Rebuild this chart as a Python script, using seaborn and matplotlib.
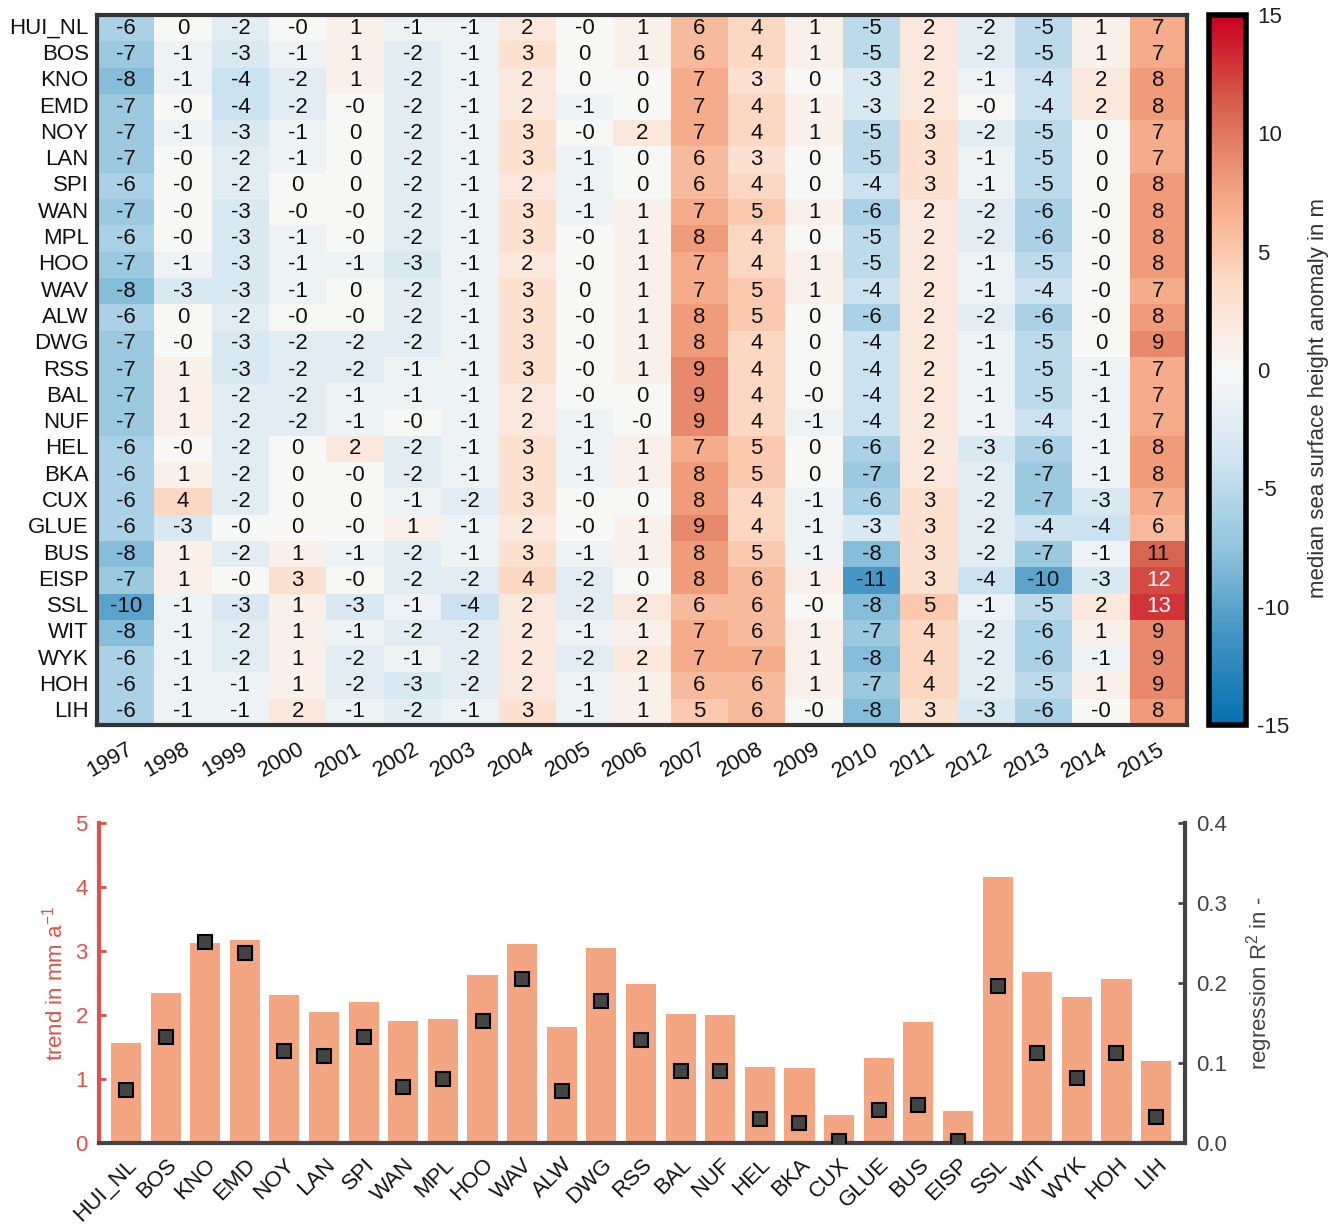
import numpy as np
import pandas as pd
import matplotlib
matplotlib.use("Agg")
import matplotlib.pyplot as plt
from matplotlib.colors import LinearSegmentedColormap
from matplotlib.ticker import FormatStrFormatter
import seaborn as sns

# ---------------- data ----------------
stations = ["HUI_NL", "BOS", "KNO", "EMD", "NOY", "LAN", "SPI", "WAN", "MPL", "HOO",
            "WAV", "ALW", "DWG", "RSS", "BAL", "NUF", "HEL", "BKA", "CUX", "GLUE",
            "BUS", "EISP", "SSL", "WIT", "WYK", "HOH", "LIH"]
years = ["1997", "1998", "1999", "2000", "2001", "2002", "2003", "2004", "2005", "2006",
         "2007", "2008", "2009", "2010", "2011", "2012", "2013", "2014", "2015"]

# median sea surface height anomaly per station (rows) and year (columns); -0.0 shown as "-0"
anom_HUI_NL = [-6, 0, -2, -0.0, 1, -1, -1, 2, -0.0, 1, 6, 4, 1, -5, 2, -2, -5, 1, 7]
anom_BOS    = [-7, -1, -3, -1, 1, -2, -1, 3, 0, 1, 6, 4, 1, -5, 2, -2, -5, 1, 7]
anom_KNO    = [-8, -1, -4, -2, 1, -2, -1, 2, 0, 0, 7, 3, 0, -3, 2, -1, -4, 2, 8]
anom_EMD    = [-7, -0.0, -4, -2, -0.0, -2, -1, 2, -1, 0, 7, 4, 1, -3, 2, -0.0, -4, 2, 8]
anom_NOY    = [-7, -1, -3, -1, 0, -2, -1, 3, -0.0, 2, 7, 4, 1, -5, 3, -2, -5, 0, 7]
anom_LAN    = [-7, -0.0, -2, -1, 0, -2, -1, 3, -1, 0, 6, 3, 0, -5, 3, -1, -5, 0, 7]
anom_SPI    = [-6, -0.0, -2, 0, 0, -2, -1, 2, -1, 0, 6, 4, 0, -4, 3, -1, -5, 0, 8]
anom_WAN    = [-7, -0.0, -3, -0.0, -0.0, -2, -1, 3, -1, 1, 7, 5, 1, -6, 2, -2, -6, -0.0, 8]
anom_MPL    = [-6, -0.0, -3, -1, -0.0, -2, -1, 3, -0.0, 1, 8, 4, 0, -5, 2, -2, -6, -0.0, 8]
anom_HOO    = [-7, -1, -3, -1, -1, -3, -1, 2, -0.0, 1, 7, 4, 1, -5, 2, -1, -5, -0.0, 8]
anom_WAV    = [-8, -3, -3, -1, 0, -2, -1, 3, 0, 1, 7, 5, 1, -4, 2, -1, -4, -0.0, 7]
anom_ALW    = [-6, 0, -2, -0.0, -0.0, -2, -1, 3, -0.0, 1, 8, 5, 0, -6, 2, -2, -6, -0.0, 8]
anom_DWG    = [-7, -0.0, -3, -2, -2, -2, -1, 3, -0.0, 1, 8, 4, 0, -4, 2, -1, -5, 0, 9]
anom_RSS    = [-7, 1, -3, -2, -2, -1, -1, 3, -0.0, 1, 9, 4, 0, -4, 2, -1, -5, -1, 7]
anom_BAL    = [-7, 1, -2, -2, -1, -1, -1, 2, -0.0, 0, 9, 4, -0.0, -4, 2, -1, -5, -1, 7]
anom_NUF    = [-7, 1, -2, -2, -1, -0.0, -1, 2, -1, -0.0, 9, 4, -1, -4, 2, -1, -4, -1, 7]
anom_HEL    = [-6, -0.0, -2, 0, 2, -2, -1, 3, -1, 1, 7, 5, 0, -6, 2, -3, -6, -1, 8]
anom_BKA    = [-6, 1, -2, 0, -0.0, -2, -1, 3, -1, 1, 8, 5, 0, -7, 2, -2, -7, -1, 8]
anom_CUX    = [-6, 4, -2, 0, 0, -1, -2, 3, -0.0, 0, 8, 4, -1, -6, 3, -2, -7, -3, 7]
anom_GLUE   = [-6, -3, -0.0, 0, -0.0, 1, -1, 2, -0.0, 1, 9, 4, -1, -3, 3, -2, -4, -4, 6]
anom_BUS    = [-8, 1, -2, 1, -1, -2, -1, 3, -1, 1, 8, 5, -1, -8, 3, -2, -7, -1, 11]
anom_EISP   = [-7, 1, -0.0, 3, -0.0, -2, -2, 4, -2, 0, 8, 6, 1, -11, 3, -4, -10, -3, 12]
anom_SSL    = [-10, -1, -3, 1, -3, -1, -4, 2, -2, 2, 6, 6, -0.0, -8, 5, -1, -5, 2, 13]
anom_WIT    = [-8, -1, -2, 1, -1, -2, -2, 2, -1, 1, 7, 6, 1, -7, 4, -2, -6, 1, 9]
anom_WYK    = [-6, -1, -2, 1, -2, -1, -2, 2, -2, 2, 7, 7, 1, -8, 4, -2, -6, -1, 9]
anom_HOH    = [-6, -1, -1, 1, -2, -3, -2, 2, -1, 1, 6, 6, 1, -7, 4, -2, -5, 1, 9]
anom_LIH    = [-6, -1, -1, 2, -1, -2, -1, 3, -1, 1, 5, 6, -0.0, -8, 3, -3, -6, -0.0, 8]

# linear trend (mm/a) and regression R^2 per station
trend = [1.57, 2.34, 3.13, 3.17, 2.32, 2.05, 2.21, 1.90, 1.94, 2.62,
         3.11, 1.81, 3.04, 2.49, 2.02, 2.00, 1.19, 1.17, 0.43, 1.33,
         1.89, 0.50, 4.15, 2.67, 2.28, 2.56, 1.28]
r2 = [0.066, 0.133, 0.251, 0.238, 0.115, 0.109, 0.133, 0.070, 0.080, 0.152,
      0.205, 0.065, 0.178, 0.129, 0.090, 0.090, 0.030, 0.025, 0.003, 0.041,
      0.047, 0.003, 0.196, 0.112, 0.081, 0.113, 0.032]

anom_rows = [anom_HUI_NL, anom_BOS, anom_KNO, anom_EMD, anom_NOY, anom_LAN, anom_SPI,
             anom_WAN, anom_MPL, anom_HOO, anom_WAV, anom_ALW, anom_DWG, anom_RSS,
             anom_BAL, anom_NUF, anom_HEL, anom_BKA, anom_CUX, anom_GLUE, anom_BUS,
             anom_EISP, anom_SSL, anom_WIT, anom_WYK, anom_HOH, anom_LIH]
df = pd.DataFrame(np.array(anom_rows, dtype=float), index=stations, columns=years)

# ---------------- style ----------------
sns.set_style("white")
plt.rcParams["font.family"] = ["Liberation Sans", "DejaVu Sans"]
plt.rcParams["axes.unicode_minus"] = False
plt.rcParams["mathtext.fontset"] = "custom"
plt.rcParams["mathtext.rm"] = "Liberation Sans"
plt.rcParams["mathtext.it"] = "Liberation Sans"

RED = "#e0504a"
GREY = "#444444"
FS = 16

cmap = LinearSegmentedColormap.from_list(
    "rdbu_custom",
    ["#0571b0", "#4393c3", "#92c5de", "#d1e5f0", "#f7f7f7",
     "#fddbc7", "#f4a582", "#d6604d", "#ca0020"])

W, H = 1341, 1228
fig = plt.figure(figsize=(W / 100, H / 100), dpi=100)

def fa(l, t, r, b):
    return [l / W, 1 - b / H, (r - l) / W, (b - t) / H]

ax = fig.add_axes(fa(97, 15, 1187, 725))
cax = fig.add_axes(fa(1209, 15, 1246, 725))

sns.heatmap(df, ax=ax, cbar_ax=cax, cmap=cmap, vmin=-15, vmax=15,
            annot=True, fmt=".0f", annot_kws={"size": FS},
            cbar_kws={"ticks": [-15, -10, -5, 0, 5, 10, 15]})

for t in ax.texts:
    v = float(t.get_text().replace("\u2212", "-"))
    t.set_color("white" if v >= 12 else "#111111")

for s in ax.spines.values():
    s.set_visible(True)
    s.set_linewidth(3)
    s.set_color("#333333")
ax.tick_params(axis="both", length=0, labelsize=FS, colors="#111111")
ax.tick_params(axis="y", pad=6)
ax.tick_params(axis="x", pad=10)
ax.set_yticklabels(stations, rotation=0)
ax.set_xticklabels(years, rotation=30, ha="right", rotation_mode="anchor")
ax.set_xlabel("")
ax.set_ylabel("")

cbar = ax.collections[0].colorbar
cbar.outline.set_edgecolor("black")
cbar.outline.set_linewidth(4)
cax.tick_params(direction="in", length=4, width=2, labelsize=FS, colors="#222222", pad=8)
cbar.set_label("median sea surface height anomaly in m", fontsize=FS, color="#333333")
cax.yaxis.set_label_coords(2.68, 0.46)

# ---------------- bottom: trend bars + R^2 squares ----------------
ax2 = fig.add_axes(fa(99, 823, 1185, 1143))
sns.barplot(x=stations, y=trend, color="#f4a582", saturation=1, width=0.76,
            ax=ax2, edgecolor="none")
ax2.set_ylim(0, 5)
ax2.set_yticks([0, 1, 2, 3, 4, 5])
ax3 = ax2.twinx()
sns.pointplot(x=stations, y=r2, ax=ax3, linestyle="none", markers="s", errorbar=None,
              color=GREY, markersize=10, markeredgecolor="black", markeredgewidth=1.5)
ax3.set_ylim(0, 0.4)
ax3.set_yticks([0, 0.1, 0.2, 0.3, 0.4])
ax3.yaxis.set_major_formatter(FormatStrFormatter("%.1f"))
ax2.set_xlim(-0.68, len(stations) - 1 + 0.73)

ax2.spines["top"].set_visible(False)
ax2.spines["right"].set_visible(False)
ax2.spines["left"].set_color(RED)
ax2.spines["left"].set_linewidth(3)
ax2.spines["bottom"].set_color(GREY)
ax2.spines["bottom"].set_linewidth(3)
for k in ["top", "left", "bottom"]:
    ax3.spines[k].set_visible(False)
ax3.spines["right"].set_color(GREY)
ax3.spines["right"].set_linewidth(3)

ax2.tick_params(axis="y", direction="in", length=5, width=2, colors=RED, labelsize=FS, pad=8)
ax2.tick_params(axis="x", direction="in", length=5, width=2, colors=GREY, labelcolor="#111111",
                labelsize=FS, pad=8, bottom=True)
ax3.tick_params(axis="y", direction="in", length=5, width=2, colors=GREY, labelsize=FS, pad=8)
ax3.tick_params(axis="x", bottom=False, labelbottom=False)
ax2.set_xticks(range(len(stations)))
ax2.set_xticklabels(stations, rotation=45, ha="right", rotation_mode="anchor")

ax2.set_ylabel("trend in mm a$^{-1}$", color=RED, fontsize=FS, labelpad=6)
ax3.set_ylabel("regression R$^{2}$ in -", color=GREY, fontsize=FS, labelpad=12)
ax2.set_xlabel("")
ax3.set_xlabel("")

fig.savefig("out.png", dpi=100)
